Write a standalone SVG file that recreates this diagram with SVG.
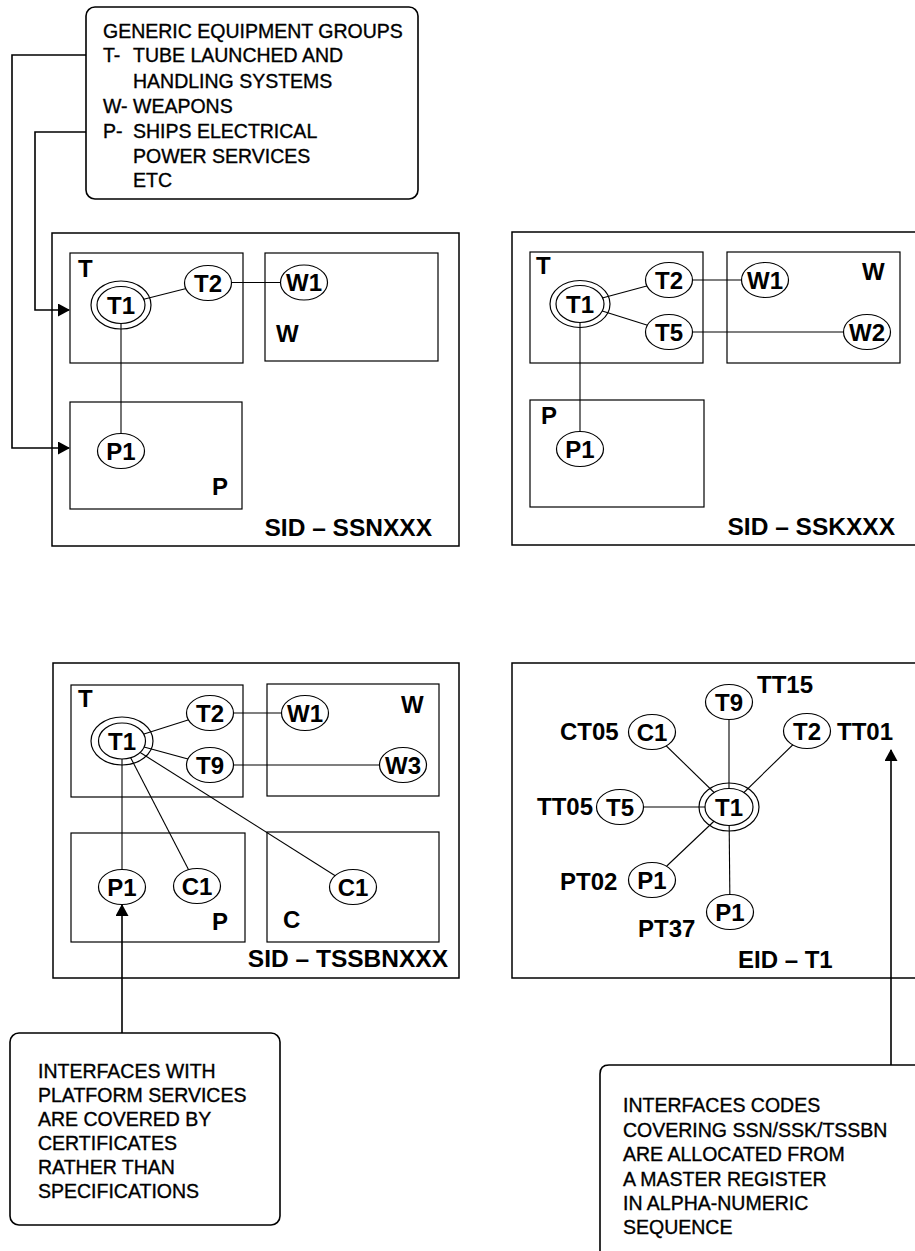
<svg xmlns="http://www.w3.org/2000/svg" width="915" height="1251" viewBox="0 0 915 1251">
<defs>
<style>
.frame{fill:none;stroke:#000;stroke-width:1.5}
.grp{fill:none;stroke:#000;stroke-width:1.2}
.call{fill:#fff;stroke:#000;stroke-width:1.6}
.n{fill:#fff;stroke:#000;stroke-width:1.2}
.ring{fill:none;stroke:#000;stroke-width:1.2}
.c{fill:none;stroke:#000;stroke-width:1.1}
.lead{fill:none;stroke:#000;stroke-width:1.6}
text{font-family:"Liberation Sans",Arial,Helvetica,sans-serif;fill:#000}
.nl{font-size:24px;font-weight:bold;text-anchor:middle}
.gl{font-size:24px;font-weight:bold}
.el{font-size:24px;font-weight:bold}
.pl{font-size:24.5px;font-weight:bold;text-anchor:end}
.ct{font-size:19.5px;stroke:#000;stroke-width:0.35}
</style>
<marker id="ah" markerUnits="userSpaceOnUse" markerWidth="12" markerHeight="13" refX="11" refY="6.5" orient="auto" viewBox="0 0 12 13"><path d="M0,0 L12,6.5 L0,13 z" fill="#000"/></marker>
</defs>
<rect width="915" height="1251" fill="#fff"/>

<g id="connectors">
  <path class="lead" d="M86,55 H12 V448 H69" marker-end="url(#ah)"/>
  <path class="lead" d="M86,132 H35 V310 H69" marker-end="url(#ah)"/>
  <path class="lead" d="M122,1033 V905" marker-end="url(#ah)"/>
  <path class="lead" d="M891,1065 V750" marker-end="url(#ah)"/>
  <!-- SSN -->
  <line class="c" x1="121" y1="305" x2="208" y2="283"/>
  <line class="c" x1="208" y1="282.5" x2="304" y2="282.5"/>
  <line class="c" x1="121" y1="305" x2="121" y2="451"/>
  <!-- SSK -->
  <line class="c" x1="580" y1="304" x2="669" y2="280"/>
  <line class="c" x1="580" y1="304" x2="669" y2="332"/>
  <line class="c" x1="669" y1="280" x2="765" y2="280"/>
  <line class="c" x1="669" y1="332" x2="867" y2="332"/>
  <line class="c" x1="580" y1="304" x2="580" y2="449"/>
  <!-- TSSBN -->
  <line class="c" x1="122" y1="741" x2="210" y2="713"/>
  <line class="c" x1="122" y1="741" x2="210" y2="765"/>
  <line class="c" x1="210" y1="713" x2="305" y2="713"/>
  <line class="c" x1="210" y1="765" x2="403" y2="765"/>
  <line class="c" x1="122" y1="741" x2="122" y2="887"/>
  <line class="c" x1="122" y1="741" x2="197" y2="886"/>
  <line class="c" x1="122" y1="741" x2="353" y2="887"/>
  <!-- EID -->
  <line class="c" x1="729" y1="807" x2="729" y2="702"/>
  <line class="c" x1="729" y1="807" x2="807" y2="731"/>
  <line class="c" x1="729" y1="807" x2="652" y2="732"/>
  <line class="c" x1="729" y1="807" x2="620" y2="807"/>
  <line class="c" x1="729" y1="807" x2="652" y2="880"/>
  <line class="c" x1="729" y1="807" x2="730" y2="912"/>
</g>

<g id="legend">
  <rect class="call" x="86" y="7" width="332" height="192" rx="9"/>
  <text class="ct" x="103" y="38">GENERIC EQUIPMENT GROUPS</text>
  <text class="ct" x="103" y="62">T-</text><text class="ct" x="133" y="62">TUBE LAUNCHED AND</text>
  <text class="ct" x="133" y="88">HANDLING SYSTEMS</text>
  <text class="ct" x="103" y="113">W-</text><text class="ct" x="133" y="113">WEAPONS</text>
  <text class="ct" x="103" y="138">P-</text><text class="ct" x="133" y="138">SHIPS ELECTRICAL</text>
  <text class="ct" x="133" y="163">POWER SERVICES</text>
  <text class="ct" x="133" y="187">ETC</text>
</g>

<g id="sid-ssn">
  <rect class="frame" x="52" y="233" width="407" height="313"/>
  <rect class="grp" x="70" y="253" width="173" height="110"/>
  <rect class="grp" x="265" y="253" width="173" height="108"/>
  <rect class="grp" x="70" y="402" width="172" height="107"/>
  <text class="gl" x="78" y="277">T</text>
  <text class="gl" x="276" y="342">W</text>
  <text class="gl" x="212" y="495">P</text>
  <ellipse class="ring" cx="121" cy="305" rx="30" ry="24"/>
  <ellipse class="n" cx="121" cy="305" rx="24" ry="18.5"/><text class="nl" x="121" y="313.6">T1</text>
  <ellipse class="n" cx="208" cy="283" rx="23.5" ry="17.5"/><text class="nl" x="208" y="291.6">T2</text>
  <ellipse class="n" cx="304" cy="282.5" rx="23.5" ry="17.5"/><text class="nl" x="304" y="291">W1</text>
  <ellipse class="n" cx="121" cy="451" rx="23.5" ry="17.5"/><text class="nl" x="121" y="459.6">P1</text>
  <text class="pl" x="432" y="536">SID – SSNXXX</text>
</g>

<g id="sid-ssk">
  <rect class="frame" x="512" y="232" width="420" height="313"/>
  <rect class="grp" x="530" y="252" width="173" height="111"/>
  <rect class="grp" x="727" y="252" width="173" height="111"/>
  <rect class="grp" x="530" y="400" width="174" height="107"/>
  <text class="gl" x="536" y="274">T</text>
  <text class="gl" x="862" y="280">W</text>
  <text class="gl" x="541" y="424">P</text>
  <ellipse class="ring" cx="580" cy="304" rx="30" ry="23.5"/>
  <ellipse class="n" cx="580" cy="304" rx="24" ry="18.5"/><text class="nl" x="580" y="312.6">T1</text>
  <ellipse class="n" cx="669" cy="280" rx="23.5" ry="17.5"/><text class="nl" x="669" y="288.6">T2</text>
  <ellipse class="n" cx="669" cy="332" rx="23.5" ry="17.5"/><text class="nl" x="669" y="340.6">T5</text>
  <ellipse class="n" cx="765" cy="280" rx="23.5" ry="17.5"/><text class="nl" x="765" y="288.6">W1</text>
  <ellipse class="n" cx="867" cy="332" rx="23.5" ry="17.5"/><text class="nl" x="867" y="340.6">W2</text>
  <ellipse class="n" cx="580" cy="449" rx="23.5" ry="17.5"/><text class="nl" x="580" y="457.6">P1</text>
  <text class="pl" x="895" y="535">SID – SSKXXX</text>
</g>

<g id="sid-tssbn">
  <rect class="frame" x="53" y="663" width="406" height="315"/>
  <rect class="grp" x="71" y="685" width="172" height="112"/>
  <rect class="grp" x="267" y="684" width="172" height="112"/>
  <rect class="grp" x="71" y="833" width="174" height="109"/>
  <rect class="grp" x="267" y="832" width="172" height="110"/>
  <text class="gl" x="78" y="707">T</text>
  <text class="gl" x="401" y="713">W</text>
  <text class="gl" x="212" y="930">P</text>
  <text class="gl" x="283" y="928">C</text>
  <ellipse class="ring" cx="122" cy="741" rx="31" ry="24"/>
  <ellipse class="n" cx="122" cy="741" rx="23.5" ry="18"/><text class="nl" x="122" y="749.6">T1</text>
  <ellipse class="n" cx="210" cy="713" rx="23.5" ry="17.5"/><text class="nl" x="210" y="721.6">T2</text>
  <ellipse class="n" cx="210" cy="765" rx="23.5" ry="17.5"/><text class="nl" x="210" y="773.6">T9</text>
  <ellipse class="n" cx="305" cy="713" rx="23.5" ry="17.5"/><text class="nl" x="305" y="721.6">W1</text>
  <ellipse class="n" cx="403" cy="765" rx="23.5" ry="17.5"/><text class="nl" x="403" y="773.6">W3</text>
  <ellipse class="n" cx="122" cy="887" rx="23.5" ry="17.5"/><text class="nl" x="122" y="895.6">P1</text>
  <ellipse class="n" cx="197" cy="886" rx="23.5" ry="17.5"/><text class="nl" x="197" y="894.6">C1</text>
  <ellipse class="n" cx="353" cy="887" rx="23.5" ry="17.5"/><text class="nl" x="353" y="895.6">C1</text>
  <text class="pl" x="448" y="967">SID – TSSBNXXX</text>
</g>

<g id="eid-t1">
  <rect class="frame" x="512" y="663" width="420" height="315"/>
  <ellipse class="ring" cx="729" cy="807" rx="30" ry="24"/>
  <ellipse class="n" cx="729" cy="807" rx="24" ry="18.5"/><text class="nl" x="729" y="815.6">T1</text>
  <ellipse class="n" cx="729" cy="702" rx="23.5" ry="17.5"/><text class="nl" x="729" y="710.6">T9</text>
  <ellipse class="n" cx="807" cy="731" rx="23.5" ry="17.5"/><text class="nl" x="807" y="739.6">T2</text>
  <ellipse class="n" cx="652" cy="732" rx="23.5" ry="17.5"/><text class="nl" x="652" y="740.6">C1</text>
  <ellipse class="n" cx="620" cy="807" rx="23.5" ry="17.5"/><text class="nl" x="620" y="815.6">T5</text>
  <ellipse class="n" cx="652" cy="880" rx="23.5" ry="17.5"/><text class="nl" x="652" y="888.6">P1</text>
  <ellipse class="n" cx="730" cy="912" rx="23.5" ry="17.5"/><text class="nl" x="730" y="920.6">P1</text>
  <text class="el" x="757" y="693">TT15</text>
  <text class="el" x="837" y="740">TT01</text>
  <text class="el" x="560" y="740">CT05</text>
  <text class="el" x="537" y="815">TT05</text>
  <text class="el" x="560" y="890">PT02</text>
  <text class="el" x="638" y="937">PT37</text>
  <text class="el" x="738" y="968">EID – T1</text>
</g>

<g id="note-platform">
  <rect class="call" x="10" y="1033" width="270" height="192" rx="9"/>
  <text class="ct" x="38" y="1078">INTERFACES WITH</text>
  <text class="ct" x="38" y="1102">PLATFORM SERVICES</text>
  <text class="ct" x="38" y="1126">ARE COVERED BY</text>
  <text class="ct" x="38" y="1150">CERTIFICATES</text>
  <text class="ct" x="38" y="1174">RATHER THAN</text>
  <text class="ct" x="38" y="1198">SPECIFICATIONS</text>
</g>

<g id="note-codes">
  <path class="call" d="M600,1260 V1074 Q600,1065 609,1065 H930"/>
  <text class="ct" x="623" y="1112">INTERFACES CODES</text>
  <text class="ct" x="623" y="1137">COVERING SSN/SSK/TSSBN</text>
  <text class="ct" x="623" y="1161">ARE ALLOCATED FROM</text>
  <text class="ct" x="623" y="1186">A MASTER REGISTER</text>
  <text class="ct" x="623" y="1210">IN ALPHA-NUMERIC</text>
  <text class="ct" x="623" y="1234">SEQUENCE</text>
</g>
</svg>
